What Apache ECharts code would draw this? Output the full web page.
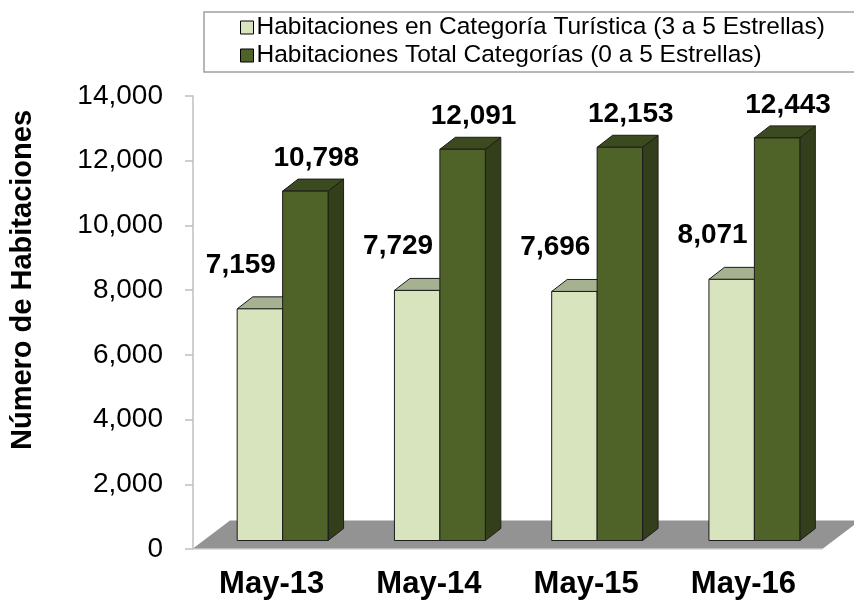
<!DOCTYPE html>
<html lang="es">
<head>
    <meta charset="UTF-8">
    <title>Habitaciones</title>
    <script src="https://cdn.jsdelivr.net/npm/echarts@6/dist/echarts.min.js"></script>
</head>
<body style="margin:0;background:#fff;">
<div id="myChart" style="width: 854px;height: 600px;"></div>
<script>
    // datos
    var categories = ['May-13', 'May-14', 'May-15', 'May-16'];
    var turisticaValues = [7159, 7729, 7696, 8071];
    var totalValues = [10798, 12091, 12153, 12443];
    var seriesNames = [
        'Habitaciones en Categoría Turística (3 a 5 Estrellas)',
        'Habitaciones Total Categorías (0 a 5 Estrellas)'
    ];

    // efecto 3D (px)
    var FRONT_DX = 11, FRONT_DY = -8.5;
    var DEPTH_DX = 15.5, DEPTH_DY = -12;
    var FLOOR_DX = 37, FLOOR_DY = -28.5;
    var FONT = 'Liberation Sans, Arial, sans-serif';

    var myChart = echarts.init(document.getElementById('myChart'));

    function fmt(v) {
        return Number(v).toLocaleString('en-US');
    }

    function barRenderer(side, front, top, flank, labelDx, labelDy) {
        return function (params, api) {
            var idx = api.value(0), val = api.value(1);
            var base = api.coord([idx, 0]);
            var peak = api.coord([idx, val]);
            var band = api.size([1, 0])[0];
            var w = band * 0.289;
            var x0 = base[0] + FRONT_DX + (side === 0 ? -w : 0);
            var x1 = x0 + w;
            var yb = base[1] + FRONT_DY;
            var yt = peak[1] + FRONT_DY;
            var line = {stroke: '#1c1c1c', lineWidth: 1};
            return {
                type: 'group',
                children: [
                    {type: 'polygon', shape: {points: [[x1, yb], [x1 + DEPTH_DX, yb + DEPTH_DY], [x1 + DEPTH_DX, yt + DEPTH_DY], [x1, yt]]},
                        style: Object.assign({fill: flank}, line)},
                    {type: 'polygon', shape: {points: [[x0, yt], [x1, yt], [x1 + DEPTH_DX, yt + DEPTH_DY], [x0 + DEPTH_DX, yt + DEPTH_DY]]},
                        style: Object.assign({fill: top}, line)},
                    {type: 'rect', shape: {x: x0, y: yt, width: w, height: yb - yt},
                        style: Object.assign({fill: front}, line)},
                    {type: 'text', style: {
                        x: (x0 + x1) / 2 + labelDx, y: yt + labelDy, text: fmt(val),
                        align: 'center', verticalAlign: 'middle',
                        font: 'bold 28px ' + FONT, fill: '#000'
                    }}
                ]
            };
        };
    }

    function floorRenderer(params, api) {
        var cs = params.coordSys;
        var yb = cs.y + cs.height;
        var L = cs.x, R = cs.x + cs.width + 1;
        return {
            type: 'polygon',
            shape: {points: [[L, yb - 0.5], [R, yb - 0.5], [R + FLOOR_DX, yb + FLOOR_DY], [L + FLOOR_DX, yb + FLOOR_DY]]},
            style: {fill: '#939393'}
        };
    }

    var option = {
        animation: false,
        backgroundColor: '#fff',
        legend: {
            orient: 'vertical',
            left: 204,
            top: 12,
            padding: [3, 30, 4, 36],
            itemGap: 3,
            itemWidth: 13,
            itemHeight: 13,
            borderColor: '#a0a0a0',
            borderWidth: 1.5,
            selectedMode: false,
            textStyle: {fontFamily: FONT, fontSize: 24.5, lineHeight: 24, color: '#000', padding: [0, 0, 0, -2]},
            data: [
                {name: seriesNames[0], icon: 'rect', itemStyle: {color: '#d7e4bd', borderColor: '#000', borderWidth: 1}},
                {name: seriesNames[1], icon: 'rect', itemStyle: {color: '#4f6228', borderColor: '#000', borderWidth: 1}}
            ]
        },
        graphic: [{
            type: 'text',
            x: 23, y: 280,
            rotation: Math.PI / 2,
            style: {
                text: 'Número de Habitaciones',
                font: 'bold 29px ' + FONT,
                fill: '#000',
                align: 'center',
                verticalAlign: 'middle'
            }
        }],
        grid: {left: 193, right: 32, top: 96, bottom: 50.5},
        xAxis: {
            type: 'category',
            data: categories,
            axisLine: {lineStyle: {color: '#d9d9d9', width: 1.5}},
            axisTick: {show: false},
            axisLabel: {margin: 20, fontFamily: FONT, fontSize: 31, fontWeight: 'bold', color: '#000'}
        },
        yAxis: {
            type: 'value',
            min: 0,
            max: 14000,
            interval: 2000,
            splitLine: {show: false},
            axisLine: {show: true, lineStyle: {color: '#bfbfbf', width: 1.5}},
            axisTick: {show: true, length: 8, lineStyle: {color: '#bfbfbf', width: 1.5}},
            axisLabel: {margin: 30, fontFamily: FONT, fontSize: 28, color: '#000', formatter: fmt}
        },
        series: [
            {
                type: 'custom',
                name: 'floor',
                z: 1,
                silent: true,
                renderItem: floorRenderer,
                data: [[0, 0]]
            },
            {
                type: 'custom',
                name: seriesNames[0],
                z: 2,
                itemStyle: {color: '#d7e4bd'},
                renderItem: barRenderer(0, '#d7e4bd', '#a6b192', '#a6b192', -19, -44),
                data: turisticaValues.map(function (v, i) { return [i, v]; })
            },
            {
                type: 'custom',
                name: seriesNames[1],
                z: 3,
                itemStyle: {color: '#4f6228'},
                renderItem: barRenderer(1, '#4f6228', '#3c4a1f', '#333f1a', 11, -33),
                data: totalValues.map(function (v, i) { return [i, v]; })
            }
        ]
    };

    myChart.setOption(option);
</script>
</body>
</html>
